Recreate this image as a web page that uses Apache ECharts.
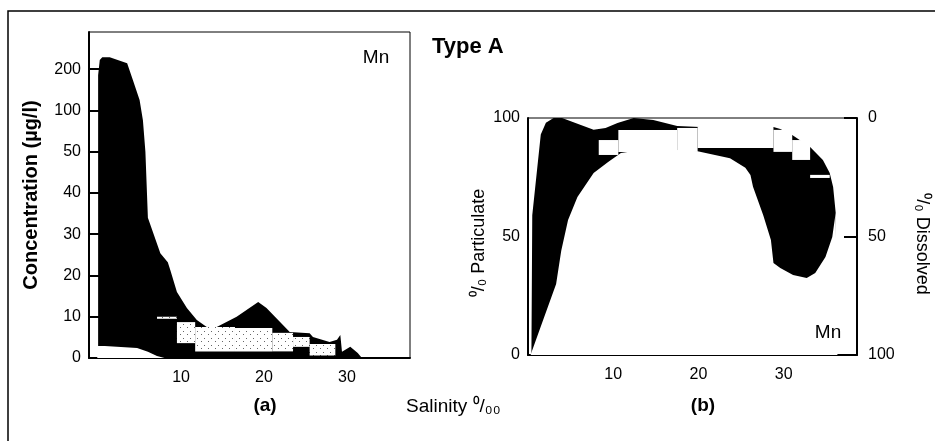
<!DOCTYPE html>
<html>
<head>
<meta charset="utf-8">
<script src="https://cdn.jsdelivr.net/npm/echarts@6/dist/echarts.min.js"></script>
<style>
	html, body { margin: 0; padding: 0; background: #fff; }
	#main { width: 935px; height: 441px; }
</style>
</head>
<body>
<div id="main"></div>
<script>
// (a) concentration axis: labels are evenly spaced, so values go through concPos()
var yTicksA = [0, 10, 20, 30, 40, 50, 100, 200];
var xTicks = [10, 20, 30];

// (a) upper edge of the black band (salinity, µg/l)
var upperAS = [0, 0.2, 0.5, 1.4, 3.5, 4.2, 5.0, 5.4, 5.7, 6.0, 7.5, 8.4, 8.7, 9.5, 10.7, 11.9, 13.1, 14.3, 16.7, 19.3, 20.3, 23.1, 25.5, 25.9, 27.9, 28.8, 29.2, 29.4, 30.4, 31.3, 31.8];
var upperAC = [185, 222, 229, 229, 214, 173, 125, 88, 50, 34, 25.4, 23.2, 21.3, 16, 12.1, 9.2, 7.5, 7.5, 10, 13.6, 12.1, 6.3, 6.0, 5.1, 3.9, 4.4, 5.6, 1.5, 2.7, 1.2, 0];
// (a) lower edge
var lowerAS = [-0.1, 0.8, 4.7, 6.0, 7.1, 8.0];
var lowerAC = [2.9, 2.9, 2.4, 1.5, 0.5, 0];
// (a) dissolved (stippled) blocks
var boxAS0 = [7.1, 9.5, 11.7, 16.5, 21.0, 23.5, 25.5];
var boxAS1 = [9.5, 11.7, 16.5, 21.0, 23.5, 25.5, 28.6];
var boxALo = [9.5, 3.6, 1.6, 1.6, 1.6, 2.7, 0.6];
var boxAHi = [10.0, 8.7, 7.5, 7.3, 6.1, 5.1, 3.4];

// (b) % particulate, outer and inner edge of the black band
var outerBS = [0.4, 0.5, 1.5, 2.1, 3.0, 4.0, 4.2, 6.2, 7.7, 9.1, 10.5, 12.4, 14.7, 17.5, 20.2, 28.8, 29.6, 31.0, 33.1, 34.6, 35.4, 35.8, 36.1];
var outerBP = [0, 59, 93, 98, 100, 100, 99.2, 97, 95, 95.8, 97.9, 100, 99.2, 96.6, 96.2, 96.2, 95.4, 92.8, 87.8, 82.3, 76.8, 70.9, 60];
var innerBS = [0.3, 1.5, 3.3, 3.9, 4.7, 5.8, 7.7, 9.4, 10.9, 13.2, 16.5, 19.9, 23.7, 25.5, 26.1, 26.4, 27.6, 28.5, 28.8, 29.6, 31.1, 32.7, 33.7, 34.9, 35.7, 36.1, 36.3];
var innerBP = [0, 12, 30, 44, 57, 66.7, 76.8, 81.4, 85.2, 86.5, 86.7, 86, 83, 79, 76, 71, 59, 48.5, 38.8, 36.7, 33.8, 32.5, 34.6, 41.4, 49.8, 60, 0];
// (b) white blocks
var boxBS0 = [8.3, 10.6, 17.5, 19.9, 28.8, 31.0, 33.1];
var boxBS1 = [10.6, 17.5, 19.9, 28.8, 31.0, 33.1, 35.4];
var boxBLo = [84.4, 85.7, 85.7, 87.3, 85.7, 82.3, 74.7];
var boxBHi = [90.7, 94.9, 95.8, 96.4, 95.0, 90.7, 76.0];
var pctTicks = [0, 50, 100];

var FONT = '"Liberation Sans", Arial, Helvetica, sans-serif';

function concPos(c) {
	for (var i = 0; i < yTicksA.length - 1; i++) {
		if (c <= yTicksA[i + 1]) {
			return i + (c - yTicksA[i]) / (yTicksA[i + 1] - yTicksA[i]);
		}
	}
	var n = yTicksA.length - 1;
	return n + (c - yTicksA[n]) / (yTicksA[n] - yTicksA[n - 1]);
}

function pairs(xs, ys, fn) {
	var out = [];
	for (var i = 0; i < xs.length; i++) {
		out.push([xs[i], fn ? fn(ys[i]) : ys[i]]);
	}
	return out;
}

function boxes(s0, s1, lo, hi, fn) {
	var out = [];
	for (var i = 0; i < s0.length; i++) {
		out.push([s0[i], s1[i], fn ? fn(lo[i]) : lo[i], fn ? fn(hi[i]) : hi[i]]);
	}
	return out;
}

// stipple for the dissolved blocks
var dots = document.createElement('canvas');
dots.width = 7; dots.height = 7;
var ctx = dots.getContext('2d');
ctx.fillStyle = '#fff';
ctx.fillRect(0, 0, 7, 7);
ctx.fillStyle = '#666';
ctx.fillRect(1, 2, 1, 1);
ctx.fillRect(5, 5, 1, 1);

function boxRenderer(fill) {
	return function (params, api) {
		var a = api.coord([api.value(0), api.value(3)]);
		var b = api.coord([api.value(1), api.value(2)]);
		return {
			type: 'rect',
			shape: {x: a[0], y: a[1], width: b[0] - a[0], height: b[1] - a[1]},
			style: {fill: fill, stroke: null}
		};
	};
}

function area(name, data, color, xi, yi, z) {
	return {
		name: name,
		type: 'line',
		xAxisIndex: xi,
		yAxisIndex: yi,
		data: data,
		showSymbol: false,
		silent: true,
		z: z,
		lineStyle: {width: 0, color: color},
		areaStyle: {color: color, opacity: 1}
	};
}

var axisLine = {onZero: false, lineStyle: {color: '#000', width: 2}};
var labelStyle = {color: '#000', fontSize: 16, fontFamily: FONT};

var chart = echarts.init(document.getElementById('main'));

var option = {
	animation: false,
	backgroundColor: '#fff',
	grid: [
		{left: 89, top: 32, width: 321, height: 326, show: true, borderColor: '#000', borderWidth: 1, backgroundColor: 'transparent'},
		{left: 528, top: 118, width: 329, height: 237, show: true, borderColor: '#000', borderWidth: 1, backgroundColor: 'transparent'}
	],
	xAxis: [
		{
			gridIndex: 0, type: 'value', min: -1.1, max: 37.6,
			axisLine: axisLine, splitLine: {show: false},
			axisTick: {show: false},
			axisLabel: Object.assign({customValues: xTicks, margin: 12}, labelStyle)
		},
		{
			gridIndex: 1, type: 'value', min: 0, max: 38.6,
			axisLine: axisLine, splitLine: {show: false},
			axisTick: {show: true, inside: true, length: 10, customValues: xTicks, lineStyle: {color: '#000', width: 1.5}},
			axisLabel: Object.assign({customValues: xTicks, margin: 12}, labelStyle)
		}
	],
	yAxis: [
		{
			gridIndex: 0, type: 'value', min: 0, max: 7.9,
			axisLine: axisLine, splitLine: {show: false},
			axisTick: {show: true, inside: true, length: 11, customValues: [1, 2, 3, 4, 5, 6, 7], lineStyle: {color: '#000', width: 2}},
			axisLabel: Object.assign({
				customValues: [0, 1, 2, 3, 4, 5, 6, 7], margin: 8,
				formatter: function (v) { return String(yTicksA[Math.round(v)]); }
			}, labelStyle)
		},
		{
			gridIndex: 1, type: 'value', min: 0, max: 100,
			axisLine: axisLine, splitLine: {show: false},
			axisTick: {show: false},
			axisLabel: Object.assign({customValues: pctTicks, margin: 8}, labelStyle)
		},
		{
			gridIndex: 1, type: 'value', min: 0, max: 100, inverse: true, position: 'right',
			axisLine: axisLine, splitLine: {show: false},
			axisTick: {show: true, inside: true, length: 13, customValues: pctTicks, lineStyle: {color: '#000', width: 2}},
			axisLabel: Object.assign({customValues: pctTicks, margin: 11}, labelStyle)
		}
	],
	series: [
		area('upperA', pairs(upperAS, upperAC, concPos), '#000', 0, 0, 2),
		area('lowerA', pairs(lowerAS, lowerAC, concPos), '#fff', 0, 0, 3),
		{
			name: 'boxA', type: 'custom', xAxisIndex: 0, yAxisIndex: 0, z: 4, silent: true,
			encode: {x: [0, 1], y: [2, 3]},
			data: boxes(boxAS0, boxAS1, boxALo, boxAHi, concPos),
			renderItem: boxRenderer({image: dots, repeat: 'repeat'})
		},
		area('outerB', pairs(outerBS, outerBP), '#000', 1, 1, 2),
		area('innerB', pairs(innerBS, innerBP), '#fff', 1, 1, 3),
		{
			name: 'boxB', type: 'custom', xAxisIndex: 1, yAxisIndex: 1, z: 4, silent: true,
			encode: {x: [0, 1], y: [2, 3]},
			data: boxes(boxBS0, boxBS1, boxBLo, boxBHi),
			renderItem: boxRenderer('#fff')
		}
	],
	graphic: [
		{type: 'polyline', z: 100, shape: {points: [[8, 441], [8, 11], [935, 11]]}, style: {stroke: '#000', lineWidth: 1.5, fill: null}},
		{type: 'text', z: 100, x: 31, y: 195, rotation: Math.PI / 2, style: {text: 'Concentration (µg/l)', font: 'bold 20px ' + FONT, fill: '#000', align: 'center', verticalAlign: 'middle'}},
		{type: 'text', z: 100, x: 376, y: 58, style: {text: 'Mn', font: '19px ' + FONT, fill: '#000', align: 'center', verticalAlign: 'middle'}},
		{type: 'text', z: 100, x: 432, y: 47, style: {text: 'Type A', font: 'bold 22px ' + FONT, fill: '#000', align: 'left', verticalAlign: 'middle'}},
		{type: 'text', z: 100, x: 828, y: 333, style: {text: 'Mn', font: '19px ' + FONT, fill: '#000', align: 'center', verticalAlign: 'middle'}},
		{type: 'text', z: 100, x: 479, y: 243, rotation: Math.PI / 2, style: {text: '⁰/₀ Particulate', font: '18px ' + FONT, fill: '#000', align: 'center', verticalAlign: 'middle'}},
		{type: 'text', z: 100, x: 922, y: 244, rotation: -Math.PI / 2, style: {text: '⁰/₀ Dissolved', font: '18px ' + FONT, fill: '#000', align: 'center', verticalAlign: 'middle'}},
		{type: 'text', z: 100, x: 265, y: 406, style: {text: '(a)', font: 'bold 19px ' + FONT, fill: '#000', align: 'center', verticalAlign: 'middle'}},
		{type: 'text', z: 100, x: 703, y: 406, style: {text: '(b)', font: 'bold 19px ' + FONT, fill: '#000', align: 'center', verticalAlign: 'middle'}},
		{type: 'text', z: 100, x: 406, y: 407, style: {text: 'Salinity ⁰/₀₀', font: '19px ' + FONT, fill: '#000', align: 'left', verticalAlign: 'middle'}}
	]
};

chart.setOption(option);
</script>
</body>
</html>
